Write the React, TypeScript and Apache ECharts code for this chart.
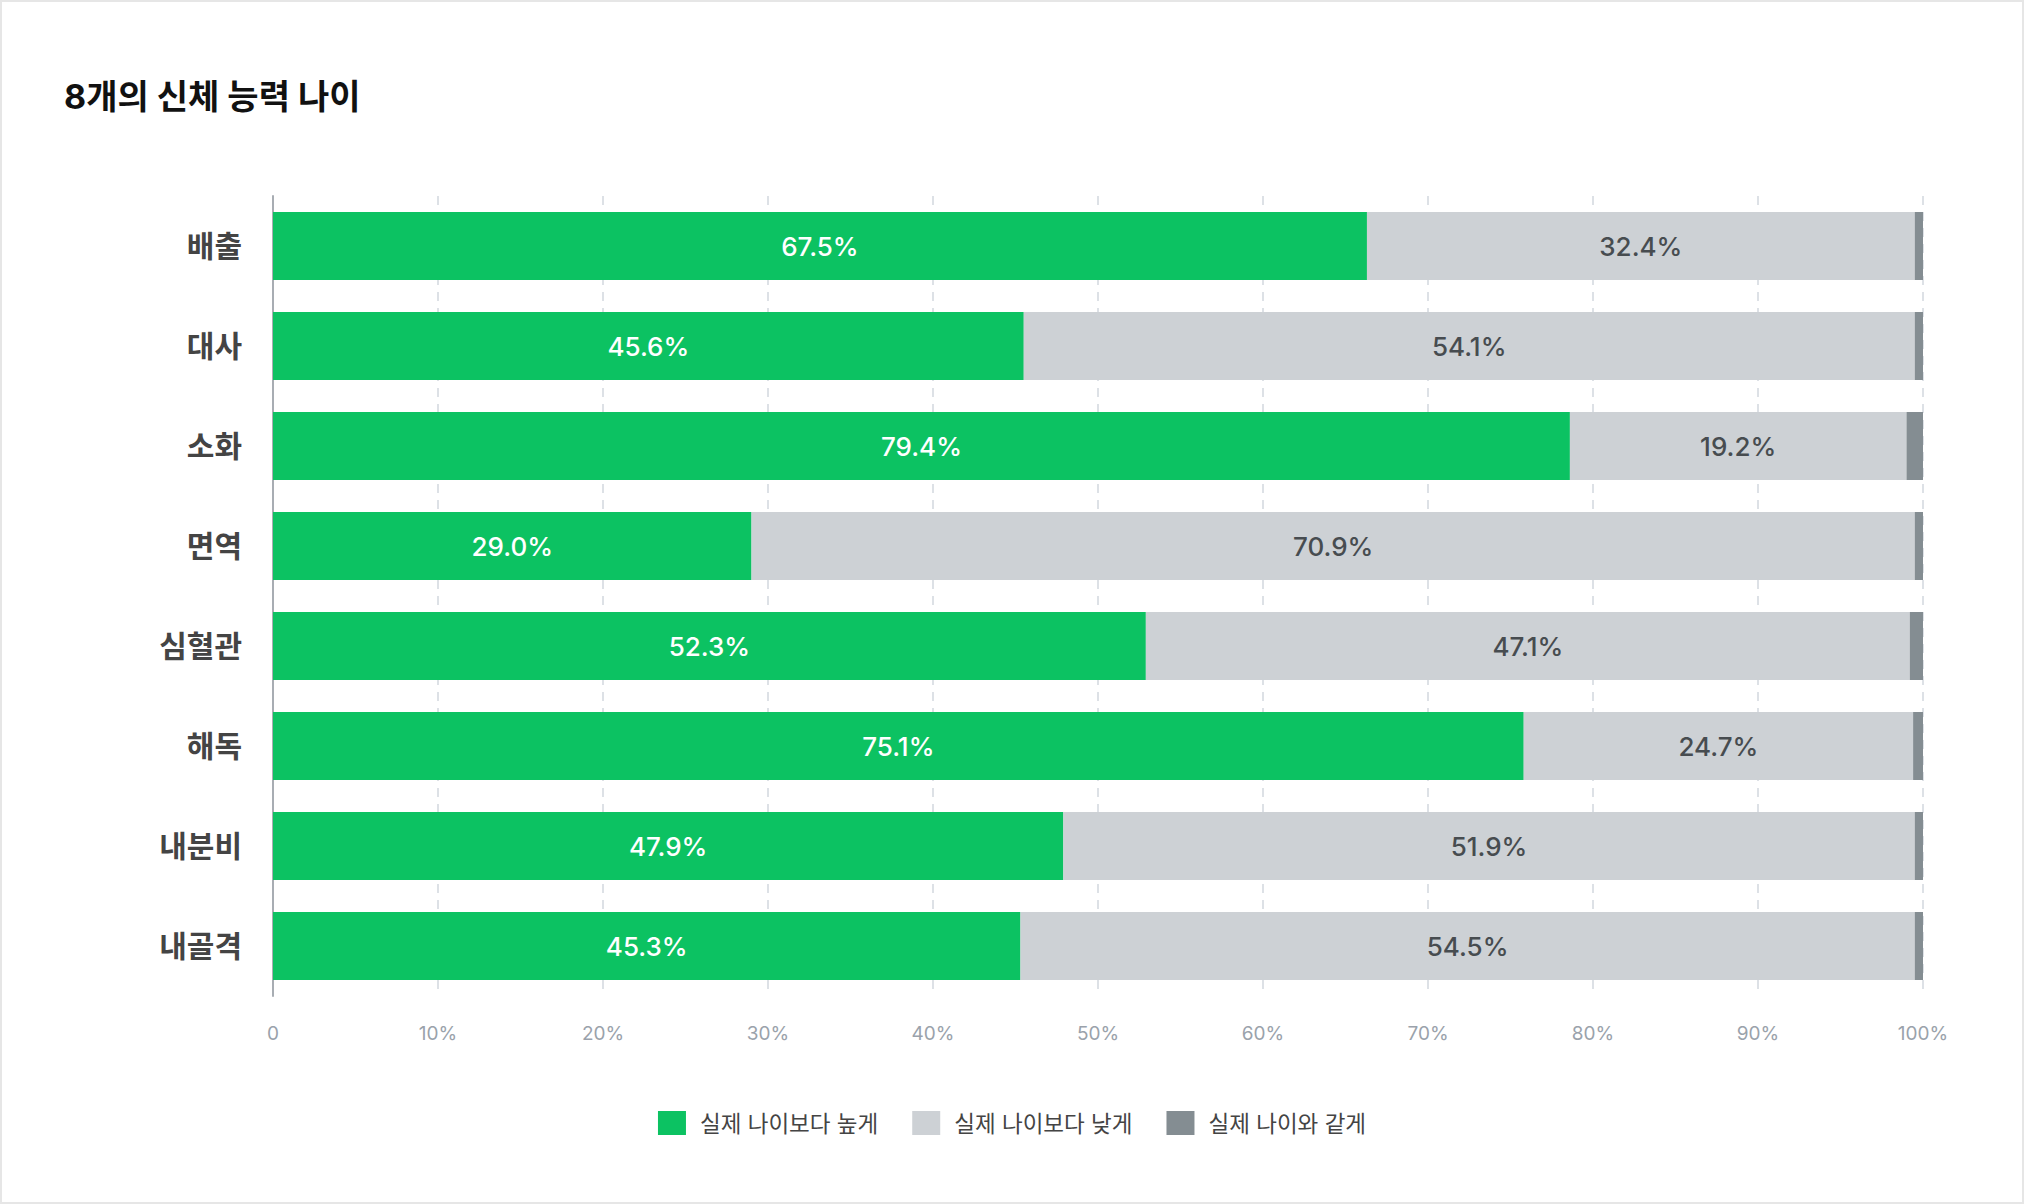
import React, { useEffect, useRef } from 'react';
import * as echarts from 'echarts';

const categories = ['배출', '대사', '소화', '면역', '심혈관', '해독', '내분비', '내골격'];
const seriesNames = ['실제 나이보다 높게', '실제 나이보다 낮게', '실제 나이와 같게'];
// bar lengths as drawn (percent of the row)
const higher = [66.3, 45.5, 78.6, 29.0, 52.9, 75.8, 47.9, 45.3];
const lower = [33.2, 54.0, 20.4, 70.5, 46.3, 23.6, 51.6, 54.2];
const same = [0.5, 0.5, 1.0, 0.5, 0.8, 0.6, 0.5, 0.5];
// printed labels
const higherLabels = ['67.5%', '45.6%', '79.4%', '29.0%', '52.3%', '75.1%', '47.9%', '45.3%'];
const lowerLabels = ['32.4%', '54.1%', '19.2%', '70.9%', '47.1%', '24.7%', '51.9%', '54.5%'];
const colors = ['#0cc262', '#cdd1d5', '#848d92'];

const FONT = "Inter, 'Noto Sans CJK KR', sans-serif";

export default function App() {
  const chartRef = useRef<HTMLDivElement | null>(null);

  useEffect(() => {
    document.body.style.margin = '0';
    if (!chartRef.current) return;
    const inst = echarts.init(chartRef.current, undefined, { renderer: 'svg' });
    inst.setOption({
      animation: false,
      backgroundColor: '#fff',
      color: colors,
      textStyle: { fontFamily: FONT },
      title: {
        text: '8개의 신체 능력 나이',
        left: 62,
        top: 77,
        padding: 0,
        textStyle: { fontFamily: FONT, fontSize: 34, fontWeight: 'bold', color: '#111' },
      },
      grid: { left: 271, right: 99, top: 194, bottom: 206, containLabel: false },
      legend: {
        top: 1104,
        left: 'center',
        icon: 'rect',
        itemWidth: 28,
        itemHeight: 24,
        itemGap: 34,
        data: seriesNames,
        textStyle: { fontFamily: FONT, fontSize: 22.5, color: '#444', padding: [0, 0, 0, 9] },
      },
      xAxis: {
        type: 'value',
        min: 0,
        max: 100,
        interval: 10,
        axisLine: { show: false },
        axisTick: { show: false },
        axisLabel: {
          color: '#9aa2ab',
          fontSize: 19,
          fontFamily: FONT,
          margin: 28,
          formatter: (v: number) => (v === 0 ? '0' : `${v}%`),
        },
        splitLine: { show: true, lineStyle: { color: '#dde1e6', width: 2, type: [9, 7] } },
      },
      yAxis: {
        type: 'category',
        inverse: true,
        data: categories,
        axisLine: { show: true, lineStyle: { color: '#a8adb3', width: 2 } },
        axisTick: { show: false },
        axisLabel: { color: '#444', fontSize: 30, fontWeight: 'bold', fontFamily: FONT, margin: 31 },
      },
      series: [
        {
          name: seriesNames[0],
          type: 'bar',
          stack: 'total',
          barWidth: 68,
          data: higher,
          label: {
            show: true,
            position: 'inside',
            color: '#fff',
            fontSize: 26,
            fontWeight: 500,
            fontFamily: FONT,
            formatter: (p: any) => higherLabels[p.dataIndex],
          },
        },
        {
          name: seriesNames[1],
          type: 'bar',
          stack: 'total',
          barWidth: 68,
          data: lower,
          label: {
            show: true,
            position: 'inside',
            color: '#474c50',
            fontSize: 26,
            fontWeight: 500,
            fontFamily: FONT,
            formatter: (p: any) => lowerLabels[p.dataIndex],
          },
        },
        {
          name: seriesNames[2],
          type: 'bar',
          stack: 'total',
          barWidth: 68,
          data: same,
        },
      ],
    });
    return () => inst.dispose();
  }, []);

  return (
    <div
      style={{
        width: 2024,
        height: 1204,
        boxSizing: 'border-box',
        border: '2px solid #e6e6e6',
        background: '#fff',
      }}
    >
      <div ref={chartRef} style={{ width: 2020, height: 1200 }} />
    </div>
  );
}
